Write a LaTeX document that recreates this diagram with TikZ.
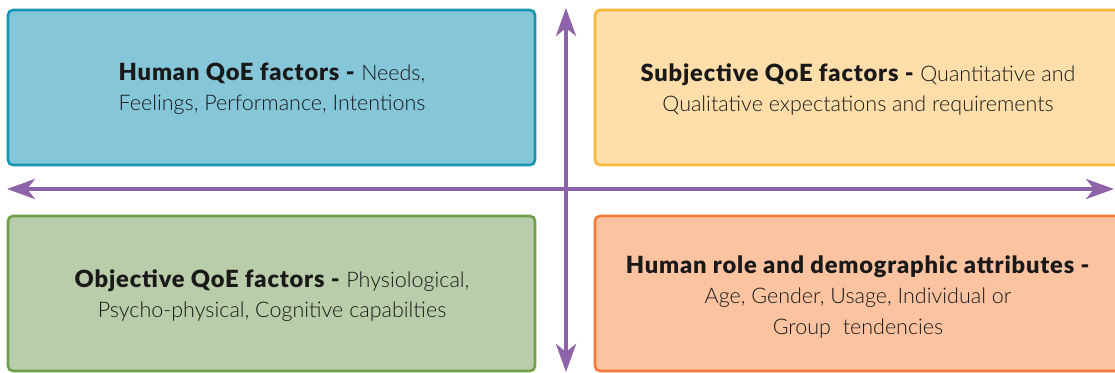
\documentclass[tikz,border=0pt]{standalone}
\usepackage{fontspec}
\setmainfont{Lato}[UprightFont={* Light}, BoldFont={* Black},
  BoldFeatures={Scale=1.1, LetterSpace=3.5}]
\usetikzlibrary{arrows.meta}
\definecolor{humfill}{HTML}{86C6D9}
\definecolor{humline}{HTML}{1895B0}
\definecolor{subfill}{HTML}{FFDEAA}
\definecolor{subline}{HTML}{FCB73A}
\definecolor{objfill}{HTML}{BACDAA}
\definecolor{objline}{HTML}{71A04D}
\definecolor{rolfill}{HTML}{FBC3A0}
\definecolor{rolline}{HTML}{F47A3B}
\definecolor{axis}{HTML}{8E63AA}
\tikzset{
  box/.style={draw, line width=2.6pt, rounded corners=5pt, inner sep=0pt,
    minimum width=527pt, minimum height=155pt},
  label/.style={align=center, font=\fontsize{21.5}{30}\selectfont, text=black!90},
  axisarrow/.style={draw=axis, line width=4pt,
    {Stealth[length=28pt, width=20pt, inset=8pt]}-{Stealth[length=28pt, width=20pt, inset=8pt]}}
}
\begin{document}
\begin{tikzpicture}[x=1pt, y=-1pt]
  \useasboundingbox (0,0) rectangle (1115,372);
  \clip (0,0) rectangle (1115,372);
  % quadrant boxes
  \node[box, draw=humline, fill=humfill] (hum) at (271.5,87.5) {};
  \node[box, draw=subline, fill=subfill] (sub) at (858.5,87.5) {};
  \node[box, draw=objline, fill=objfill] (obj) at (271.5,293.5) {};
  \node[box, draw=rolline, fill=rolfill] (rol) at (858.5,293.5) {};
  % quadrant texts
  \node[label] (humtxt) at (272,89) {\textbf{Human QoE factors -} Needs,\\Feelings, Performance, Intentions};
  \node[label] (subtxt) at (858,89) {\textbf{Subjective QoE factors -} Quantitative and\\Qualitative expectations and requirements};
  \node[label] (objtxt) at (272,296) {\textbf{Objective QoE factors -} Physiological,\\Psycho-physical, Cognitive capabilties};
  \node[label] (roltxt) at (858,297) {\textbf{Human role and demographic attributes -}\\Age, Gender, Usage, Individual or\\Group\ \ tendencies};
  % axes
  \coordinate (west) at (7,189);
  \coordinate (east) at (1114,189);
  \coordinate (north) at (566,8);
  \coordinate (south) at (566,372);
  \draw[axisarrow] (west) -- (east);
  \draw[axisarrow] (north) -- (south);
\end{tikzpicture}
\end{document}
